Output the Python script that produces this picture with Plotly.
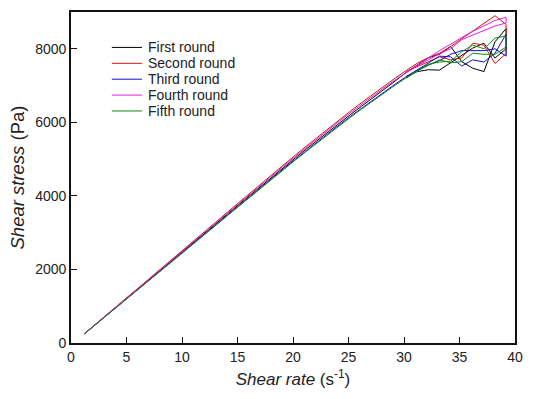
import plotly.graph_objects as go

# Shear rate (s^-1), ramp up then back down near the top
rate_up = [1.2, 2.2, 3.2, 4.2, 5.2, 6.2, 7.2, 8.2, 9.2, 10.2, 11.2, 12.2, 13.2, 14.2,
           15.2, 16.2, 17.2, 18.2, 19.2, 20.2, 21.2, 22.2, 23.2, 24.2, 25.2, 26.2,
           27.2, 28.2, 29.2, 30.2, 31.2, 32.2, 33.2, 34.2, 35.2, 36.2, 37.2, 38.2, 39.2]
rate_down = [39.2, 38.2, 37.2, 36.2, 35.2, 34.2, 33.2, 32.2, 31.2, 30.2]

first_up = [250, 500, 750, 1000, 1250, 1500, 1752, 2005, 2258, 2512, 2767, 3022, 3277, 3532,
            3785, 4037, 4288, 4538, 4786, 5031, 5274, 5514, 5752, 5987, 6217, 6443,
            6666, 6884, 7120, 7360, 7560, 7760, 7850, 8060, 7650, 7470, 7380, 8190, 8550]
first_down = [8000, 7750, 8150, 8020, 7820, 7600, 7420, 7430, 7380, 7250]

second_up = [254, 508, 761, 1015, 1269, 1523, 1778, 2035, 2292, 2550, 2809, 3067, 3326, 3585,
             3842, 4098, 4352, 4606, 4858, 5106, 5353, 5597, 5838, 6077, 6310, 6540,
             6766, 6987, 7201, 7410, 7607, 7760, 7880, 8060, 8270, 8480, 8690, 8900, 8660]
second_down = [7870, 7600, 8100, 8150, 7750, 7700, 7780, 7650, 7520, 7380]

third_up = [248, 496, 744, 992, 1240, 1488, 1738, 1989, 2240, 2492, 2745, 2998, 3251, 3504,
            3755, 4005, 4254, 4502, 4748, 4991, 5232, 5470, 5706, 5939, 6167, 6391,
            6613, 6829, 7038, 7242, 7435, 7620, 7800, 7780, 7530, 7700, 7640, 7880, 8400]
third_down = [7800, 8000, 7950, 7960, 7950, 7850, 7680, 7560, 7420, 7220]

fourth_up = [252, 504, 756, 1008, 1260, 1512, 1766, 2021, 2276, 2532, 2789, 3046, 3303, 3560,
             3815, 4069, 4322, 4574, 4824, 5071, 5316, 5558, 5798, 6035, 6267, 6495,
             6719, 6939, 7152, 7358, 7555, 7750, 7950, 8130, 8320, 8480, 8620, 8770, 8860]
fourth_down = [8700, 8620, 8500, 8380, 8250, 8000, 7870, 7700, 7540, 7350]

fifth_up = [247, 494, 741, 988, 1235, 1482, 1731, 1981, 2231, 2482, 2734, 2986, 3238, 3490,
            3740, 3989, 4237, 4484, 4729, 4971, 5211, 5448, 5683, 5915, 6142, 6366,
            6586, 6801, 7010, 7212, 7405, 7580, 7640, 7660, 7920, 8100, 8000, 8290, 8350]
fifth_down = [8050, 7850, 7850, 7880, 7650, 7620, 7700, 7550, 7400, 7200]

names = ["First round", "Second round", "Third round", "Fourth round", "Fifth round"]
colors = ["#000000", "#e01010", "#1010c8", "#e020e0", "#108a10"]
ups = [first_up, second_up, third_up, fourth_up, fifth_up]
downs = [first_down, second_down, third_down, fourth_down, fifth_down]

x_ticks = [0, 5, 10, 15, 20, 25, 30, 35, 40]
y_ticks = [0, 2000, 4000, 6000, 8000]

fig = go.Figure()
for name, color, up, down in zip(names, colors, ups, downs):
    fig.add_trace(go.Scatter(
        x=rate_up + rate_down, y=up + down, mode="lines", name=name,
        line=dict(color=color, width=1), showlegend=False))

font_family = "Liberation Sans, Arial, sans-serif"
axis_common = dict(
    showline=True, linecolor="#111111", linewidth=1.6, mirror=True,
    ticks="inside", ticklen=6, tickwidth=1.4, tickcolor="#111111",
    showgrid=False, zeroline=False,
    tickfont=dict(family=font_family, size=14, color="#222222"),
)

# Legend drawn in paper coordinates (compact row spacing like the original)
leg_x0, leg_x1, leg_tx = 0.092, 0.160, 0.168
leg_top, leg_step = 0.893, 0.048
shapes, annotations = [], []
for i, (name, color) in enumerate(zip(names, colors)):
    yy = leg_top - i * leg_step
    shapes.append(dict(type="line", xref="paper", yref="paper",
                       x0=leg_x0, x1=leg_x1, y0=yy, y1=yy,
                       line=dict(color=color, width=1)))
    annotations.append(dict(xref="paper", yref="paper", x=leg_tx, y=yy,
                            xanchor="left", yanchor="middle", showarrow=False,
                            text=name,
                            font=dict(family=font_family, size=14, color="#222222")))

fig.update_layout(
    width=534, height=399,
    margin=dict(l=71, r=19, t=10, b=56),
    paper_bgcolor="white", plot_bgcolor="white",
    font=dict(family=font_family, color="#222222"),
    xaxis=dict(range=[0, 40], tickvals=x_ticks,
               title=dict(text="<i>Shear rate</i> (s<sup>-1</sup>)",
                          font=dict(size=17), standoff=10),
               **axis_common),
    yaxis=dict(range=[0, 9000], tickvals=y_ticks,
               title=dict(text="<i>Shear stress</i> (Pa)",
                          font=dict(size=18.5), standoff=6),
               **axis_common),
    shapes=shapes,
    annotations=annotations,
    showlegend=False,
)

fig.write_html("out.html", config={"displayModeBar": False},
               post_script="document.body.style.margin='0';")
